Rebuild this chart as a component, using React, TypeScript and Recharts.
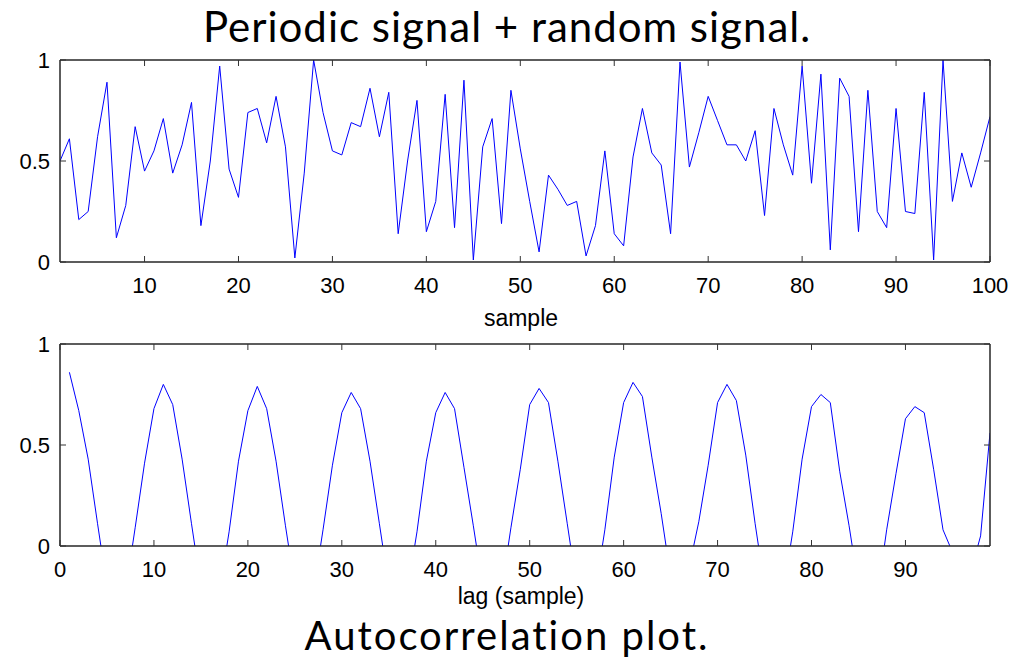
import { LineChart, Line, XAxis, YAxis } from "recharts"

// random + periodic signal, samples 1..100
const sampleValues = [
  0.5, 0.61, 0.21, 0.25, 0.62, 0.89, 0.12, 0.28, 0.67, 0.45,
  0.55, 0.71, 0.44, 0.58, 0.79, 0.18, 0.5, 0.97, 0.46, 0.32,
  0.74, 0.76, 0.59, 0.82, 0.57, 0.02, 0.44, 1.0, 0.74, 0.55,
  0.53, 0.69, 0.67, 0.86, 0.62, 0.84, 0.14, 0.5, 0.8, 0.15,
  0.3, 0.83, 0.17, 0.9, 0.01, 0.57, 0.71, 0.19, 0.85, 0.56,
  0.3, 0.05, 0.43, 0.36, 0.28, 0.3, 0.03, 0.18, 0.55, 0.14,
  0.08, 0.52, 0.76, 0.54, 0.48, 0.14, 0.99, 0.47, 0.64, 0.82,
  0.7, 0.58, 0.58, 0.5, 0.65, 0.23, 0.76, 0.58, 0.43, 0.97,
  0.39, 0.93, 0.06, 0.91, 0.82, 0.15, 0.85, 0.25, 0.17, 0.76,
  0.25, 0.24, 0.84, 0.01, 1.0, 0.3, 0.54, 0.37, 0.54, 0.72,
]

// autocorrelation, lags 1..99 (values below 0 are clipped by the axis)
const lagValues = [
  0.86, 0.67, 0.43, 0.11, -0.2, -0.35, -0.22, 0.09, 0.41, 0.68,
  0.8, 0.7, 0.43, 0.11, -0.2, -0.35, -0.22, 0.07, 0.42, 0.67,
  0.79, 0.68, 0.42, 0.1, -0.2, -0.35, -0.22, 0.08, 0.4, 0.66,
  0.76, 0.68, 0.42, 0.11, -0.2, -0.35, -0.22, 0.07, 0.42, 0.66,
  0.76, 0.68, 0.39, 0.1, -0.2, -0.35, -0.22, 0.09, 0.38, 0.7,
  0.78, 0.71, 0.42, 0.11, -0.2, -0.35, -0.22, 0.08, 0.44, 0.71,
  0.81, 0.74, 0.44, 0.16, -0.15, -0.35, -0.1, 0.12, 0.4, 0.71,
  0.8, 0.72, 0.45, 0.11, -0.2, -0.35, -0.22, 0.07, 0.43, 0.69,
  0.75, 0.71, 0.37, 0.1, -0.2, -0.35, -0.25, 0.08, 0.36, 0.63,
  0.69, 0.66, 0.38, 0.08, -0.03, -0.3, -0.12, 0.05, 0.56,
]

const sampleTicks = [10, 20, 30, 40, 50, 60, 70, 80, 90, 100]
const lagTicks = [0, 10, 20, 30, 40, 50, 60, 70, 80, 90]
const valueTicks = [0, 0.5, 1]

const sampleData = sampleValues.map((v, i) => ({ sample: i + 1, value: v }))
const lagData = lagValues.map((v, i) => ({ lag: i + 1, value: v }))

const AXIS = "#262626"
const TICK = "#333"
const TICK_LEN = 6
const font = "Arial, 'Liberation Sans', sans-serif"
const axisLine = { stroke: AXIS, strokeWidth: 1.5 }

function BottomTick({ x, y, payload }: any) {
  return (
    <g>
      <line x1={x} x2={x} y1={y} y2={y - TICK_LEN} stroke={TICK} />
      <text x={x} y={y + 31} textAnchor="middle" fontFamily={font} fontSize={22} fill="#000">
        {payload.value}
      </text>
    </g>
  )
}

function TopTick({ x, y }: any) {
  return <line x1={x} x2={x} y1={y} y2={y + TICK_LEN} stroke={TICK} />
}

function LeftTick({ x, y, payload }: any) {
  return (
    <g>
      <line x1={x} x2={x + TICK_LEN} y1={y} y2={y} stroke={TICK} />
      <text x={x - 10} y={y + 8} textAnchor="end" fontFamily={font} fontSize={22} fill="#000">
        {String(payload.value)}
      </text>
    </g>
  )
}

function RightTick({ x, y }: any) {
  return <line x1={x} x2={x - TICK_LEN} y1={y} y2={y} stroke={TICK} />
}

type PanelProps = {
  data: { [k: string]: number }[]
  xKey: string
  domain: [number, number]
  ticks: number[]
  label: string
  labelOffset: number
  height: number
  top: number
  bottom: number
}

// axes are 1px thick so they still render; margins put the plot box at x 60..990
function Panel({ data, xKey, domain, ticks, label, labelOffset, height, top, bottom }: PanelProps) {
  return (
    <LineChart width={1014} height={height} data={data} margin={{ top: top - 1, right: 23, bottom: bottom - 1, left: 59 }}>
      <XAxis
        xAxisId="bottom"
        dataKey={xKey}
        type="number"
        domain={domain}
        allowDataOverflow
        ticks={ticks}
        interval={0}
        height={1}
        tickSize={0}
        tickMargin={0}
        tickLine={false}
        axisLine={axisLine}
        tick={<BottomTick />}
        label={{ value: label, position: "bottom", offset: labelOffset, dx: -4, fontFamily: font, fontSize: 23, fill: "#000" }}
      />
      <XAxis
        xAxisId="top"
        orientation="top"
        dataKey={xKey}
        type="number"
        domain={domain}
        allowDataOverflow
        ticks={ticks}
        interval={0}
        height={1}
        tickSize={0}
        tickMargin={0}
        tickLine={false}
        axisLine={axisLine}
        tick={<TopTick />}
      />
      <YAxis
        yAxisId="left"
        type="number"
        domain={[0, 1]}
        allowDataOverflow
        ticks={valueTicks}
        interval={0}
        width={1}
        tickSize={0}
        tickMargin={0}
        tickLine={false}
        axisLine={axisLine}
        tick={<LeftTick />}
      />
      <YAxis
        yAxisId="right"
        orientation="right"
        type="number"
        domain={[0, 1]}
        allowDataOverflow
        ticks={valueTicks}
        interval={0}
        width={1}
        tickSize={0}
        tickMargin={0}
        tickLine={false}
        axisLine={axisLine}
        tick={<RightTick />}
      />
      <Line
        xAxisId="bottom"
        yAxisId="left"
        type="linear"
        dataKey="value"
        stroke="#0000ff"
        strokeWidth={1}
        dot={false}
        isAnimationActive={false}
      />
    </LineChart>
  )
}

const titleStyle = {
  position: "absolute" as const,
  left: 0,
  width: 1014,
  textAlign: "center" as const,
  fontFamily: "Lato, 'Open Sans', sans-serif",
  fontSize: 42,
  letterSpacing: 1,
  lineHeight: "30px",
  color: "#000",
  whiteSpace: "nowrap" as const,
}

export default function App() {
  return (
    <div style={{ position: "absolute", left: 0, top: 0, width: 1014, height: 659, background: "#fff", overflow: "hidden" }}>
      <div style={{ ...titleStyle, top: 11 }}>Periodic signal + random signal.</div>
      <div style={{ position: "absolute", left: 0, top: 0 }}>
        <Panel data={sampleData} xKey="sample" domain={[1, 100]} ticks={sampleTicks} label="sample" labelOffset={47} height={340} top={60} bottom={78} />
      </div>
      <div style={{ position: "absolute", left: 0, top: 330 }}>
        <Panel data={lagData} xKey="lag" domain={[0, 99]} ticks={lagTicks} label="lag (sample)" labelOffset={41} height={300} top={14} bottom={84} />
      </div>
      <div style={{ ...titleStyle, fontSize: 40, letterSpacing: 2, top: 620 }}>Autocorrelation plot.</div>
    </div>
  )
}
